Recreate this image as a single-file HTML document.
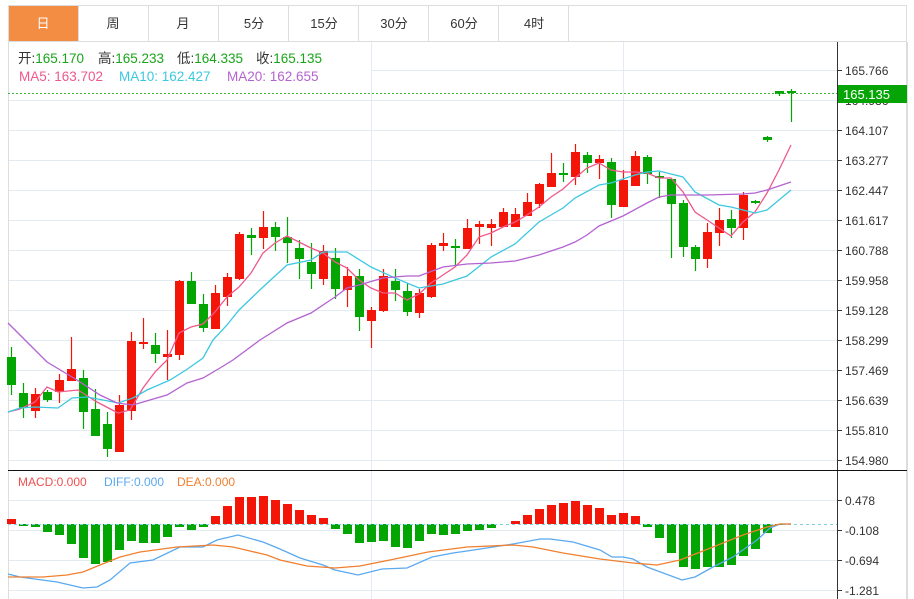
<!DOCTYPE html>
<html><head><meta charset="utf-8">
<style>
html,body{margin:0;padding:0;background:#fff;width:914px;height:599px;overflow:hidden}
svg{display:block;font-family:"Liberation Sans","Noto Sans CJK SC",sans-serif}
</style></head>
<body>
<svg id="s" width="914" height="599" viewBox="0 0 914 599" xmlns="http://www.w3.org/2000/svg">
<rect x="0" y="0" width="914" height="599" fill="#fff"/>
<g id="grid" stroke="#e3ebf2" stroke-width="1"></g>
<rect x="8.5" y="5.5" width="898" height="600" fill="none" stroke="#dddddd"/>
<line x1="8" y1="41.5" x2="907" y2="41.5" stroke="#dddddd"/>
<rect x="9" y="6" width="69" height="35" fill="#f38d43"/>
<g stroke="#dddddd">
<line x1="78.5" y1="6" x2="78.5" y2="41"/><line x1="148.5" y1="6" x2="148.5" y2="41"/>
<line x1="218.5" y1="6" x2="218.5" y2="41"/><line x1="288.5" y1="6" x2="288.5" y2="41"/>
<line x1="358.5" y1="6" x2="358.5" y2="41"/><line x1="428.5" y1="6" x2="428.5" y2="41"/>
<line x1="498.5" y1="6" x2="498.5" y2="41"/><line x1="568.5" y1="6" x2="568.5" y2="41"/>
</g>
<g font-size="13" text-anchor="middle" fill="#333">
<text x="43" y="28" fill="#fff">日</text><text x="113" y="28">周</text><text x="183" y="28">月</text>
<text x="254" y="28">5分</text><text x="324" y="28">15分</text><text x="394" y="28">30分</text>
<text x="464" y="28">60分</text><text x="534" y="28">4时</text>
</g>
<g id="plot"></g>
<rect x="9" y="43" width="362" height="43" fill="#fff"/>
<g font-size="13.5">
<text x="18" y="63" fill="#333">开:<tspan fill="#19a519">165.170</tspan></text>
<text x="98" y="63" fill="#333">高:<tspan fill="#19a519">165.233</tspan></text>
<text x="177" y="63" fill="#333">低:<tspan fill="#19a519">164.335</tspan></text>
<text x="256" y="63" fill="#333">收:<tspan fill="#19a519">165.135</tspan></text>
<text x="19" y="81" fill="#f0588c">MA5: 163.702</text>
<text x="119" y="81" fill="#3cc8e0">MA10: 162.427</text>
<text x="227" y="81" fill="#b462d0">MA20: 162.655</text>
</g>
<line x1="8" y1="93.5" x2="837" y2="93.5" stroke="#3cb83c" stroke-dasharray="2,2"/>
<line x1="837.5" y1="42" x2="837.5" y2="599" stroke="#333"/>
<line x1="907.5" y1="42" x2="907.5" y2="599" stroke="#dddddd"/>
<line x1="8" y1="470.5" x2="907" y2="470.5" stroke="#111"/>
<g id="ax" font-size="12" fill="#333"></g>
<rect x="838" y="85" width="69" height="18" fill="#07a407"/>
<text x="843" y="99" font-size="13" fill="#fff">165.135</text>
<g font-size="12">
<text x="18" y="486" fill="#f05050">MACD:0.000</text>
<text x="104" y="486" fill="#5aa9f0">DIFF:0.000</text>
<text x="177" y="486" fill="#f08030">DEA:0.000</text>
</g>
</svg>
<script>
var NS="http://www.w3.org/2000/svg";
function el(p,t,a){var e=document.createElementNS(NS,t);for(var k in a)e.setAttribute(k,a[k]);p.appendChild(e);return e;}
var grid=document.getElementById('grid'),plot=document.getElementById('plot'),ax=document.getElementById('ax');
var pl=["165.766","164.936","164.107","163.277","162.447","161.617","160.788","159.958","159.128","158.299","157.469","156.639","155.810","154.980"];
for(var i=0;i<14;i++){var y=70+i*30;el(grid,'line',{x1:9,y1:y+.5,x2:837,y2:y+.5});el(ax,'line',{x1:837,y1:y+.5,x2:842,y2:y+.5,stroke:'#333'});var t=el(ax,'text',{x:845,y:y+5});t.textContent=pl[i];}
var ml=["0.478","-0.108","-0.694","-1.281"];
for(var i=0;i<4;i++){var y=500+i*30;el(grid,'line',{x1:9,y1:y+.5,x2:837,y2:y+.5});el(ax,'line',{x1:837,y1:y+.5,x2:842,y2:y+.5,stroke:'#333'});var t=el(ax,'text',{x:845,y:y+5});t.textContent=ml[i];}
[371.5,623.5].forEach(function(x){el(grid,'line',{x1:x,y1:42,x2:x,y2:599});});
var R="#f31508",G="#03a503";
var C=[[357,385,347,395,0],[393,408,383,418,0],[394,411,388,418,1],[392,400,390,402,0],[380,392,374,403,1],[369,381,337,381,1],[378,412,370,429,0],[409,436,389,436,0],[424,449,412,457,0],[405,452,395,452,1],[341,411,332,420,1],[342,344,318,349,1],[345,354,333,363,0],[354,357,330,380,1],[281,355,280,360,1],[281,304,272,304,0],[304,328,294,332,0],[293,329,285,329,1],[277,297,273,306,1],[234,279,232,280,1],[235,238,228,255,0],[227,238,211,249,1],[227,237,222,251,0],[237,243,217,263,0],[248,259,240,279,0],[262,274,243,289,0],[251,279,245,285,1],[258,289,248,299,0],[276,290,267,307,1],[276,317,269,331,0],[310,321,307,348,1],[276,311,269,312,1],[281,290,269,301,0],[291,312,283,316,0],[293,313,289,318,1],[245,297,243,298,1],[243,246,233,251,1],[246,248,239,265,0],[228,249,219,249,1],[224,227,221,244,1],[224,228,219,246,1],[212,227,208,227,1],[214,227,208,227,1],[202,216,193,216,1],[184,204,183,208,1],[173,187,153,187,1],[173,175,163,182,0],[152,177,144,185,1],[155,163,152,173,0],[159,163,155,179,1],[162,205,158,218,0],[180,207,170,207,1],[156,186,151,186,1],[157,174,155,184,0],[176,178,172,198,0],[179,204,178,258,0],[203,247,200,257,0],[247,259,245,271,0],[232,259,223,268,1],[220,233,208,246,1],[219,228,210,238,0],[195,228,192,240,1],[201,203,200,204,0],[137,140,136,142,0],[91,94,91,96,0],[91,93,89,122,0]];
var M=[519,526,527,532,535,544,558,564,562,550,541,543,543,537,527,530,527,516,506,497,497,496,500,504,510,515,518,529,534,543,542,541,547,548,541,534,535,534,531,530,528,524,521,515,509,505,503,501,505,508,515,513,516,527,538,553,567,569,567,567,565,556,549,533,525,524];
for(var i=0;i<M.length;i++){var x=11.5+12*i,v=M[i];if(Math.abs(v-524)<1)continue;var up=v<524;
el(plot,'rect',{x:x-4.5,y:up?v:524,width:9,height:Math.abs(v-524),fill:up?R:G});}
el(plot,'line',{x1:8,y1:524.5,x2:837,y2:524.5,stroke:'#7fd0e0','stroke-dasharray':'3,3'});
for(var i=0;i<C.length;i++){var c=C[i],x=11.5+12*i,col=c[4]?R:G;
el(plot,'line',{x1:x,y1:c[2],x2:x,y2:c[3],stroke:col,'stroke-width':1.2});
el(plot,'rect',{x:x-4.5,y:c[0],width:9,height:Math.max(2,c[1]-c[0]),fill:col});}
function pline(pts,col){el(plot,'polyline',{points:pts.map(function(p){return p.join(',')}).join(' '),fill:'none',stroke:col,'stroke-width':1.3});}
pline([[8,412],[20,409],[35,402],[47,387],[58,392],[78,390],[97,402],[118,413],[130,410],[143,388],[155,372],[167,360],[179,333],[191,327],[203,324],[215,312],[227,297],[239,287],[251,273],[263,253],[275,243],[287,236],[299,242],[311,248],[323,253],[335,262],[347,268],[359,280],[371,288],[383,293],[395,293],[407,300],[419,294],[431,283],[443,275],[455,267],[467,255],[479,237],[491,233],[503,227],[515,222],[527,215],[539,207],[551,197],[563,189],[575,178],[587,168],[599,163],[611,170],[623,172],[635,172],[647,173],[659,178],[671,178],[683,192],[695,212],[707,220],[719,228],[731,236],[743,222],[755,212],[767,193],[779,170],[791,145]],'#f0588c');
pline([[8,412],[20,408],[35,407],[58,408],[72,398],[87,397],[103,400],[118,403],[133,398],[147,390],[170,380],[186,370],[203,358],[213,340],[227,325],[239,310],[263,287],[287,265],[311,260],[323,252],[347,252],[371,267],[395,278],[419,288],[431,286],[443,284],[467,276],[491,257],[515,244],[539,222],[563,208],[575,198],[599,185],[611,183],[635,175],[647,172],[659,171],[671,174],[683,177],[695,192],[719,205],[731,207],[743,210],[755,213],[767,210],[791,190]],'#3cc8e0');
pline([[8,323],[13,328],[30,345],[47,362],[77,380],[100,395],[117,403],[133,405],[143,402],[167,395],[187,383],[203,378],[220,368],[233,360],[260,340],[287,323],[311,313],[335,297],[347,288],[359,285],[383,278],[407,276],[419,276],[443,267],[467,264],[491,263],[515,261],[527,258],[539,255],[563,247],[575,242],[587,235],[599,226],[623,216],[647,203],[659,197],[671,195],[707,195],[743,194],[755,193],[767,190],[791,182]],'#b462d0');
pline([[8,574],[20,577],[57,582],[83,588],[97,587],[110,580],[130,563],[153,560],[180,547],[203,547],[217,540],[238,535],[263,542],[280,549],[300,558],[323,565],[335,570],[358,575],[382,569],[407,568],[432,557],[453,553],[467,551],[493,547],[513,544],[540,539],[550,539],[573,542],[600,550],[612,557],[623,557],[633,559],[647,567],[682,580],[695,577],[713,567],[733,557],[757,540],[770,528],[780,524],[791,524]],'#5aa9f0');
pline([[8,577],[43,577],[67,575],[83,572],[100,565],[120,557],[140,552],[177,547],[213,545],[233,547],[267,555],[280,560],[307,566],[335,568],[360,566],[390,560],[428,552],[467,547],[513,545],[533,547],[563,553],[600,559],[633,563],[657,565],[680,560],[713,547],[743,535],[767,527],[780,524],[791,524]],'#f08030');
</script>
</body></html>
